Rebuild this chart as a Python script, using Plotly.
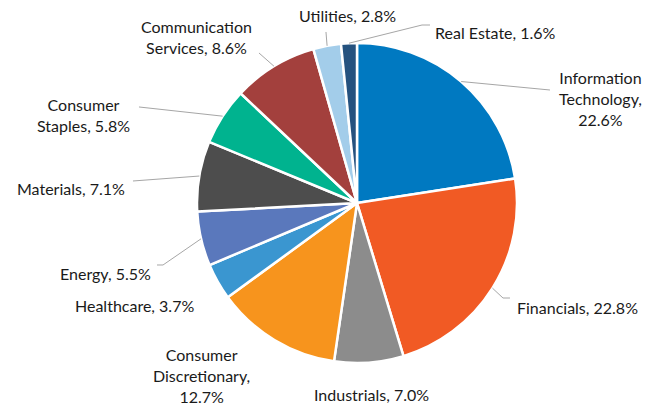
import math
import plotly.graph_objects as go

# sector weights, in the order they run clockwise from 12 o'clock
sectors = ["Information Technology", "Financials", "Industrials", "Consumer Discretionary",
           "Healthcare", "Energy", "Materials", "Consumer Staples",
           "Communication Services", "Utilities", "Real Estate"]
weights = [22.6, 22.8, 7.0, 12.7, 3.7, 5.5, 7.1, 5.8, 8.6, 2.8, 1.6]
label_texts = ["Information<br>Technology,<br>22.6%", "Financials, 22.8%", "Industrials, 7.0%",
               "Consumer<br>Discretionary,<br>12.7%", "Healthcare, 3.7%", "Energy, 5.5%",
               "Materials, 7.1%", "Consumer<br>Staples, 5.8%", "Communication<br>Services, 8.6%",
               "Utilities, 2.8%", "Real Estate, 1.6%"]
colors = ["#0079c1", "#f15a24", "#8c8c8c", "#f7941d", "#3a96d0", "#5a78bc",
          "#4d4d4d", "#00b38f", "#a3403d", "#a3cdea", "#25527f"]

W, H = 660, 406
CX, CY, R = 357, 203, 160  # pie centre and radius in pixels

# label placement (pixel offsets from the pie centre), anchor, leader-line end points
label_layout = [
    ((243, -105), "center", [(193, -113)]),
    ((158, 104), "left", [(146, 95), (153, 95)]),
    ((14, 191), "center", []),
    ((-155, 172), "center", []),
    ((-161, 102), "right", []),
    ((-204, 70), "right", [(-194, 62), (-200, 62)]),
    ((-230, -15), "right", [(-224, -22)]),
    ((-274, -88), "center", [(-218, -96)]),
    ((-161, -166), "center", [(-98, -150)]),
    ((-9, -187), "center", [(-31, -171)]),
    ((76, -170), "left", [(65, -178), (73, -178)]),
]


def px(x, y):
    return x / W, 1 - y / H


fig = go.Figure(go.Pie(
    labels=sectors, values=weights, sort=False, direction="clockwise", rotation=0,
    marker=dict(colors=colors, line=dict(color="white", width=2.5)),
    textinfo="none", hoverinfo="label+percent", showlegend=False,
    domain=dict(x=[(CX - R) / W, (CX + R) / W], y=[1 - (CY + R) / H, 1 - (CY - R) / H]),
))

total = sum(weights)
cum = 0
annotations, shapes = [], []
for v, txt, (pos, anchor, leader) in zip(weights, label_texts, label_layout):
    theta = 2 * math.pi * (cum + v / 2) / total
    cum += v
    ex, ey = CX + R * math.sin(theta), CY - R * math.cos(theta)
    lx, ly = px(CX + pos[0], CY + pos[1])
    annotations.append(dict(x=lx, y=ly, xref="paper", yref="paper", text=txt, showarrow=False,
                            xanchor=anchor, yanchor="middle", align="center",
                            font=dict(family="Lato", size=16, color="#1a1a1a")))
    if leader:
        pts = [(ex, ey)] + [(CX + a, CY + b) for a, b in leader]
        path = "M " + " L ".join("{:.4f},{:.4f}".format(*px(a, b)) for a, b in pts)
        shapes.append(dict(type="path", path=path, xref="paper", yref="paper",
                           line=dict(color="#a6a6a6", width=1)))

fig.update_layout(width=W, height=H, margin=dict(l=0, r=0, t=0, b=0),
                  paper_bgcolor="white", plot_bgcolor="white",
                  annotations=annotations, shapes=shapes)
fig.write_html("out.html", config={"displayModeBar": False},
               post_script="document.body.style.margin='0px';")
